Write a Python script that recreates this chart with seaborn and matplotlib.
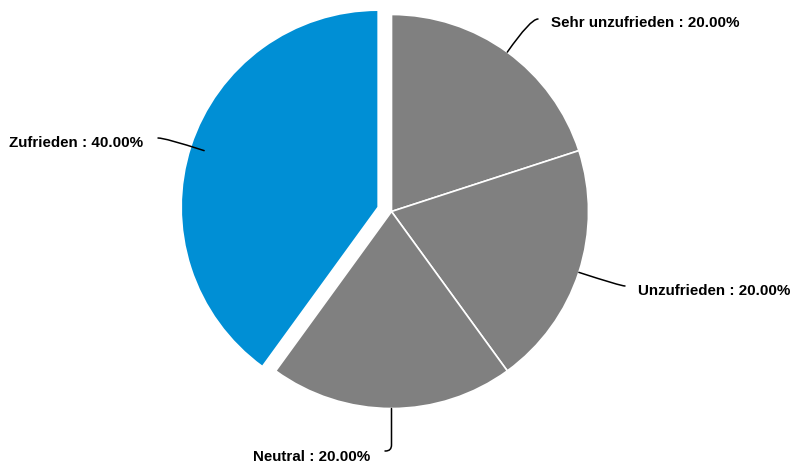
import numpy as np
import matplotlib
matplotlib.use("Agg")
import matplotlib.pyplot as plt
import seaborn as sns

# ---- data ----
categories = ["Sehr unzufrieden", "Unzufrieden", "Neutral", "Zufrieden"]
values = [20, 20, 20, 40]

# ---- style / layout ----
sns.set_theme(style="white")
plt.rcParams["font.family"] = ["Liberation Sans", "DejaVu Sans"]
colors = ["#808080", "#808080", "#808080", "#008FD5"]

W, H = 795, 464
CX, CY, R = 391.5, 212.5, 197  # pixel coords (y down)
explode = [0, 0, 0, 14]  # offset in data (pixel) units

fig = plt.figure(figsize=(W / 100, H / 100), dpi=100)
ax = fig.add_axes([0, 0, 1, 1])

def py(y):
    return H - y

wedges, _ = ax.pie(values, colors=colors, explode=explode, startangle=90,
                   counterclock=False, center=(CX, py(CY)), radius=R,
                   wedgeprops=dict(edgecolor="white", linewidth=1.2),
                   frame=True)
ax.set_xlim(0, W)
ax.set_ylim(0, H)
ax.set_aspect("equal")
ax.axis("off")

total = sum(values)
# label layout: connector end (pixel), connection style, text pos, ha
layout = [
    dict(end=(538, 20), conn="angle3,angleA=0,angleB=55", txt=(551, 23), ha="left"),
    dict(end=(625, 287), conn="angle3,angleA=0,angleB=-18", txt=(638, 291), ha="left"),
    dict(end=(385, 452), conn="angle,angleA=0,angleB=90,rad=6", txt=(370, 457), ha="right"),
    dict(end=(158, 139), conn="angle3,angleA=0,angleB=-18", txt=(143, 143), ha="right"),
]

for w, cat, v, lay in zip(wedges, categories, values, layout):
    mid = np.deg2rad((w.theta1 + w.theta2) / 2)
    sx = CX + R * np.cos(mid)
    sy = py(CY) + R * np.sin(mid)
    ex, ey = lay["end"]
    ax.annotate("", xy=(sx, sy), xytext=(ex, py(ey)),
                arrowprops=dict(arrowstyle="-", color="black", lw=1.1,
                                connectionstyle=lay["conn"],
                                shrinkA=0, shrinkB=0))
    tx, ty = lay["txt"]
    ax.text(tx, py(ty), f"{cat} : {v / total * 100:.2f}%", ha=lay["ha"],
            va="center", fontsize=10.9, fontweight="bold", color="black")

fig.savefig("out.png", dpi=100)
